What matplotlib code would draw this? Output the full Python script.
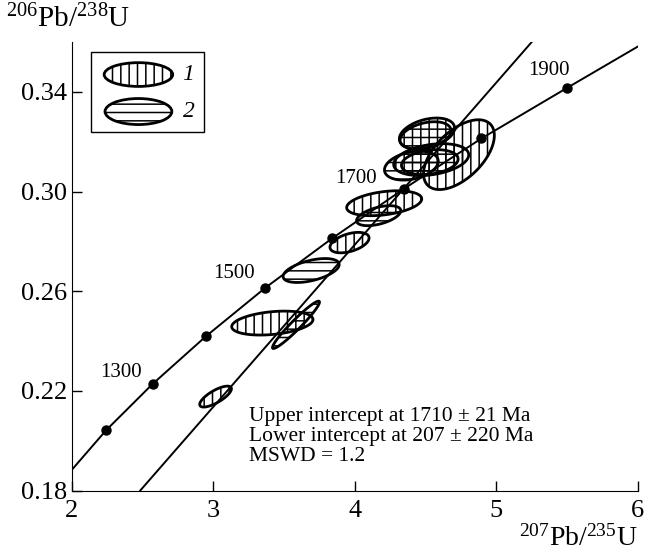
import numpy as np
import matplotlib
matplotlib.use("Agg")
import matplotlib.pyplot as plt
from matplotlib.patches import Polygon, Ellipse, Rectangle

plt.rcParams['font.family'] = ['Liberation Serif', 'DejaVu Serif']
plt.rcParams['mathtext.fontset'] = 'custom'
plt.rcParams['mathtext.rm'] = 'Liberation Serif'
plt.rcParams['mathtext.it'] = 'Liberation Serif:italic'
plt.rcParams['hatch.linewidth'] = 1.1

# concordia nodes (Ma)
node_ages = [1200, 1300, 1400, 1500, 1600, 1700, 1800, 1900]
node_x = [2.244, 2.573, 2.949, 3.367, 3.840, 4.345, 4.895, 5.497]
node_y = [0.2042, 0.2228, 0.2419, 0.2613, 0.2812, 0.3010, 0.3213, 0.3415]
labelled_ages = [1300, 1500, 1700, 1900]
label_x = [2.35, 3.15, 4.01, 5.37]
label_y = [0.2275, 0.2669, 0.3052, 0.3486]

# concordia ends at the frame
conc_start = (2.0, 0.1882)
conc_end = (6.0, 0.3582)

# discordia through the intercepts
disc_x = [2.485, 5.25]
disc_y = [0.18, 0.36]

# zircon error ellipses: centre, half-range, correlation, type
ell_x = [3.017, 3.418, 3.585, 3.692, 3.963, 4.208, 4.169, 4.736, 4.51, 4.50, 4.40, 4.54, 4.53]
ell_sx = [0.112, 0.287, 0.166, 0.198, 0.138, 0.265, 0.156, 0.25, 0.195, 0.18, 0.19, 0.265, 0.20]
ell_y = [0.2177, 0.2472, 0.2465, 0.2683, 0.2795, 0.2953, 0.2903, 0.3148, 0.3233, 0.3225, 0.3104, 0.3128, 0.3118]
ell_sy = [0.0042, 0.0048, 0.0095, 0.0048, 0.0041, 0.0050, 0.0040, 0.0140, 0.0062, 0.0055, 0.0058, 0.0064, 0.0050]
ell_rho = [0.75, 0.3, 0.96, 0.5, 0.45, 0.35, 0.5, 0.55, 0.35, 0.35, 0.3, 0.3, 0.25]
ell_type = [1, 1, 2, 2, 1, 1, 2, 1, 1, 2, 2, 1, 2]

hatches = {1: '||', 2: '--'}

fig = plt.figure(figsize=(6.45, 5.53), dpi=100)
ax = fig.add_axes([0.111, 0.113, 0.878, 0.811])

# error ellipses
t = np.linspace(0, 2 * np.pi, 200)
for cx, sx, cy, sy, r, kind in zip(ell_x, ell_sx, ell_y, ell_sy, ell_rho, ell_type):
    px = cx + sx * np.cos(t)
    py = cy + sy * (r * np.cos(t) + np.sqrt(1 - r * r) * np.sin(t))
    ax.add_patch(Polygon(np.column_stack([px, py]), closed=True, fill=False,
                         edgecolor='black', linewidth=2.0, hatch=hatches[kind]))

# concordia
cx_line = [conc_start[0]] + node_x + [conc_end[0]]
cy_line = [conc_start[1]] + node_y + [conc_end[1]]
ax.plot(cx_line, cy_line, color='black', linewidth=1.4)
ax.plot(node_x, node_y, 'o', color='black', markersize=6.5)
for age, lx, ly in zip(labelled_ages, label_x, label_y):
    ax.text(lx, ly, str(age), fontsize=15, ha='center', va='center')

# discordia
ax.plot(disc_x, disc_y, color='black', linewidth=1.4)

ax.text(3.25, 0.2135, "Upper intercept at 1710 \u00b1 21 Ma\nLower intercept at 207 \u00b1 220 Ma\nMSWD = 1.2",
        fontsize=15.5, ha='left', va='top', linespacing=1.08)

# legend box
ax.add_patch(Rectangle((0.035, 0.800), 0.198, 0.177, transform=ax.transAxes,
                       fill=False, edgecolor='black', linewidth=1.0))
ax.add_patch(Ellipse((0.118, 0.9275), 0.121, 0.053, transform=ax.transAxes,
                     fill=False, edgecolor='black', linewidth=2.0, hatch='||'))
ax.add_patch(Ellipse((0.118, 0.845), 0.118, 0.058, transform=ax.transAxes,
                     fill=False, edgecolor='black', linewidth=2.0, hatch='--'))
ax.text(0.205, 0.9275, "1", transform=ax.transAxes, fontsize=17, style='italic', va='center', ha='center')
ax.text(0.207, 0.845, "2", transform=ax.transAxes, fontsize=17, style='italic', va='center', ha='center')

ax.set_xlim(2, 6)
ax.set_ylim(0.18, 0.36)
ax.set_xticks([2, 3, 4, 5, 6])
ax.set_xticklabels(['2', '3', '4', '5', '6'])
ax.set_yticks([0.18, 0.22, 0.26, 0.30, 0.34])
ax.set_yticklabels(['0.18', '0.22', '0.26', '0.30', '0.34'])
ax.tick_params(direction='in', length=7, width=1, labelsize=19, pad=3)
ax.tick_params(axis='x', pad=7)
ax.spines['top'].set_visible(False)
ax.spines['right'].set_visible(False)

fig.text(0.01, 0.94, r'$^{206}$Pb/$^{238}$U', fontsize=21, ha='left', va='bottom')
fig.text(0.988, 0.002, r'$^{207}$Pb/$^{235}$U', fontsize=20, ha='right', va='bottom')

plt.savefig('out.png', dpi=100)
